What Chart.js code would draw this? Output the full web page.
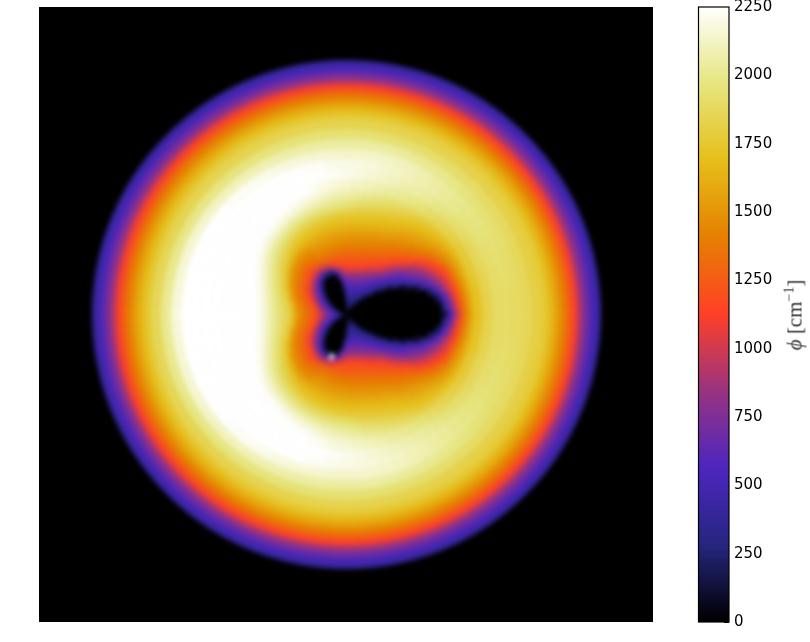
<!DOCTYPE html>
<html>
<head>
<meta charset="utf-8">
<script src="https://cdn.jsdelivr.net/npm/chart.js@4"></script>
<style>
    html, body { margin: 0; padding: 0; background: #fff; }
    #page { position: relative; width: 810px; height: 642px; overflow: hidden; }
    #plot { position: absolute; left: 39px; top: 7px; width: 614px; height: 615px; background: #000; overflow: hidden; }
    #heat { filter: blur(2.6px); }
    #bar { position: absolute; left: 680px; top: 0; }
    #label { position: absolute; left: 795px; top: 315px; transform: translate(-50%, -50%) rotate(-90deg);
             font: 21px "Liberation Serif", serif; color: #333; white-space: nowrap; }
    #label sup { font-size: 14px; line-height: 0; }
</style>
</head>
<body>
<div id="page">
    <div id="plot"><canvas id="heat" width="614" height="615"></canvas></div>
    <canvas id="bar" width="130" height="642"></canvas>
    <div id="label"><i>ϕ</i> [cm<sup>−1</sup>]</div>
</div>
<script>
// colorbar
const tickValues = [0, 250, 500, 750, 1000, 1250, 1500, 1750, 2000, 2250];
const phiMax = 2250;
// CMRmap colours, evenly spaced from 0 to phiMax
const colorStops = [[0, 0, 0], [38, 38, 128], [77, 38, 191], [153, 51, 128], [255, 64, 38],
    [230, 128, 0], [230, 191, 26], [230, 230, 128], [255, 255, 255]];

// outer edges of the polar rings in pixels of radius, centre outwards
const ringEdges = [0, 6, 12, 18, 24, 30, 36, 42, 48, 54, 60, 66, 72, 78, 84, 90, 96, 102, 108, 114, 120, 126,
    136, 146, 156, 166, 176, 186, 196, 202, 208, 214, 220, 226, 232, 238, 244, 250, 254];
const sliceDegrees = 5;
// the speck of white at the tip of the lower lobe
const speck = { slice: 22, ring: 7, value: 2250 };

// phi read along the radius, one row per angle from 0 (east) to 180 (west), 5 degrees apart.
// The picture is mirrored about the horizontal axis so only the upper half is listed.
const phiByAngle = [
    [0,0,0,0,0,0,0,0,0,0,0,0,0,0,0,0,150,560,950,1290,1500, 1690,1820,1890,1900,1885,1860,1800, 1760,1660,1550,1420,1270,1100,860,680,520,400],
    [0,0,0,0,0,0,0,0,0,0,0,0,0,0,0,0,330,690,1060,1320,1530, 1710,1825,1890,1900,1885,1860,1800, 1760,1660,1550,1420,1270,1100,860,680,520,400],
    [0,0,0,0,0,0,0,0,0,0,0,0,0,0,0,180,560,850,1125,1370,1550, 1710,1830,1895,1905,1890,1860,1800, 1760,1660,1550,1420,1270,1100,860,680,520,400],
    [0,0,0,0,0,0,0,0,0,0,0,0,0,0,220,530,770,990,1190,1420,1580, 1730,1835,1900,1915,1895,1865,1800, 1760,1660,1550,1420,1270,1100,860,680,520,400],
    [0,0,0,0,0,0,0,0,0,0,0,0,100,380,580,750,900,1070,1260,1460,1600, 1750,1850,1910,1925,1905,1870,1800, 1760,1660,1550,1420,1270,1100,860,680,520,400],
    [0,0,0,0,0,0,0,0,0,0,60,300,500,620,740,880,1030,1150,1320,1500,1620, 1760,1860,1920,1935,1915,1875,1805, 1760,1660,1550,1420,1270,1100,860,680,520,400],
    [0,0,0,0,0,0,0,0,60,300,450,570,680,780,890,1020,1150,1300,1430,1530,1650, 1770,1870,1935,1950,1925,1880,1805, 1760,1660,1550,1420,1270,1100,860,680,520,400],
    [0,0,0,0,0,0,60,250,400,490,580,690,790,910,1050,1180,1290,1400,1500,1590,1690, 1800,1895,1950,1965,1935,1885,1810, 1760,1660,1550,1420,1270,1100,860,680,520,400],
    [0,0,0,0,70,250,380,450,520,630,730,840,1000,1140,1240,1320,1410,1490,1570,1650,1735, 1830,1920,1970,1980,1945,1890,1810, 1760,1660,1550,1420,1270,1100,860,680,520,400],
    [0,0,0,120,260,370,450,530,650,750,880,1040,1165,1250,1330,1410,1490,1550,1620,1690,1770, 1860,1950,2000,2000,1960,1895,1810, 1760,1660,1550,1420,1270,1100,860,680,520,400],
    [0,60,180,280,370,450,530,650,770,950,1080,1170,1250,1320,1400,1470,1530,1590,1660,1720,1800, 1900,1985,2025,2020,1975,1900,1815, 1760,1660,1550,1420,1270,1100,860,680,520,400],
    [30,150,240,320,410,500,620,740,880,1050,1160,1240,1310,1380,1440,1510,1580,1640,1700,1770,1850, 1945,2020,2050,2045,1990,1905,1820, 1760,1660,1550,1420,1270,1100,860,680,520,400],
    [60,190,290,370,450,560,680,800,960,1140,1210,1290,1360,1430,1490,1560,1630,1690,1745,1820,1890, 1985,2050,2080,2070,2005,1910,1820, 1760,1660,1550,1420,1270,1100,860,680,520,400],
    [80,220,320,400,490,610,730,860,1050,1180,1250,1330,1400,1460,1530,1600,1670,1720,1790,1860,1925, 2010,2070,2100,2090,2015,1915,1825, 1760,1660,1550,1420,1270,1100,860,680,520,400],
    [90,240,340,420,500,640,750,920,1125,1210,1280,1350,1420,1480,1550,1630,1690,1745,1825,1895,1965, 2040,2100,2130,2110,2030,1920,1825, 1760,1660,1550,1420,1270,1100,860,680,520,400],
    [100,250,350,430,520,650,770,980,1160,1230,1300,1370,1440,1500,1580,1650,1710,1765,1855,1930,2000, 2070,2130,2150,2125,2040,1925,1830, 1760,1660,1550,1420,1270,1100,860,680,520,400],
    [80,240,350,440,540,670,790,1010,1170,1240,1320,1390,1460,1520,1600,1670,1730,1790,1885,1965,2030, 2100,2160,2170,2135,2045,1930,1830, 1760,1660,1550,1420,1270,1100,860,680,520,400],
    [0,160,320,430,520,660,790,1030,1180,1250,1330,1400,1470,1530,1610,1680,1745,1825,1925,2000,2060, 2125,2185,2185,2135,2045,1935,1830, 1760,1660,1550,1420,1270,1100,860,680,520,400],
    [0,0,190,360,480,650,790,1040,1180,1250,1330,1410,1480,1540,1620,1690,1750,1860,1960,2030,2090, 2150,2210,2195,2130,2040,1935,1830, 1760,1660,1550,1420,1270,1100,860,680,520,400],
    [0,0,0,0,200,470,690,960,1170,1260,1340,1420,1490,1550,1630,1700,1770,1880,1980,2050,2110, 2170,2225,2210,2140,2045,1935,1830, 1760,1660,1550,1420,1270,1100,860,680,520,400],
    [0,0,0,0,0,0,330,800,1150,1260,1350,1430,1500,1560,1640,1700,1790,1900,2000,2080,2140, 2200,2245,2225,2150,2050,1940,1830, 1760,1660,1550,1420,1270,1100,860,680,520,400],
    [0,0,0,0,0,0,0,500,1080,1270,1360,1440,1510,1580,1650,1720,1810,1920,2030,2110,2180, 2230,2250,2235,2160,2055,1940,1830, 1760,1660,1550,1420,1270,1100,860,680,520,400],
    [0,0,0,0,0,0,0,250,950,1280,1370,1450,1520,1590,1670,1740,1830,1940,2060,2140,2210, 2250,2250,2250,2170,2060,1945,1830, 1760,1660,1550,1420,1270,1100,860,680,520,400],
    [0,0,0,0,0,0,0,260,920,1270,1380,1460,1530,1600,1690,1750,1860,1970,2090,2170,2230, 2250,2250,2250,2185,2070,1950,1830, 1760,1660,1550,1420,1270,1100,860,680,520,400],
    [0,0,0,0,0,0,0,420,900,1230,1340,1420,1500,1620,1700,1790,1900,2000,2120,2200,2245, 2250,2250,2250,2200,2080,1955,1835, 1760,1660,1550,1420,1270,1100,860,680,520,400],
    [0,0,0,0,0,0,100,560,950,1220,1340,1420,1500,1630,1735,1830,1940,2050,2160,2230,2250, 2250,2250,2250,2215,2090,1960,1835, 1760,1660,1550,1420,1270,1100,860,680,520,400],
    [0,0,0,0,0,0,400,700,1060,1200,1320,1430,1520,1680,1780,1880,1980,2090,2190,2245,2250, 2250,2250,2250,2225,2100,1965,1840, 1760,1660,1550,1420,1270,1100,860,680,520,400],
    [0,0,0,0,0,280,570,830,1150,1260,1360,1460,1590,1750,1840,1930,2020,2130,2210,2250,2250, 2250,2250,2250,2235,2110,1970,1840, 1760,1660,1550,1420,1270,1100,860,680,520,400],
    [0,0,0,0,240,500,730,1010,1190,1300,1400,1480,1680,1800,1890,1990,2080,2170,2240,2250,2250, 2250,2250,2250,2245,2120,1975,1840, 1760,1660,1550,1420,1270,1100,860,680,520,400],
    [0,0,0,190,430,640,840,1080,1230,1340,1440,1560,1780,1860,1960,2050,2140,2220,2250,2250,2250, 2250,2250,2250,2250,2130,1980,1845, 1760,1660,1550,1420,1270,1100,860,680,520,400],
    [0,0,130,390,570,740,1000,1170,1290,1390,1480,1720,1830,1930,2020,2110,2190,2250,2250,2250,2250, 2250,2250,2250,2250,2140,1985,1845, 1760,1660,1550,1420,1270,1100,860,680,520,400],
    [0,110,330,500,650,830,1140,1230,1330,1440,1590,1780,1890,1990,2080,2170,2240,2250,2250,2250,2250, 2250,2250,2250,2250,2145,1990,1850, 1760,1660,1550,1420,1270,1100,860,680,520,400],
    [60,260,450,600,750,1040,1200,1290,1390,1490,1750,1850,1950,2040,2130,2210,2250,2250,2250,2250,2250, 2250,2250,2250,2250,2150,1995,1850, 1760,1660,1550,1420,1270,1100,860,680,520,400],
    [120,320,520,680,830,1150,1250,1340,1440,1590,1810,1900,1990,2080,2170,2240,2250,2250,2250,2250,2250, 2250,2250,2250,2250,2155,2000,1855, 1760,1660,1550,1420,1270,1100,860,680,520,400],
    [140,380,570,730,940,1190,1290,1390,1490,1750,1850,1930,2020,2110,2200,2250,2250,2250,2250,2250,2250, 2250,2250,2250,2250,2160,2005,1855, 1760,1660,1550,1420,1270,1100,860,680,520,400],
    [160,450,610,770,1010,1210,1310,1410,1530,1790,1870,1950,2040,2130,2210,2250,2250,2250,2250,2250,2250, 2250,2250,2250,2250,2165,2010,1855, 1760,1660,1550,1420,1270,1100,860,680,520,400],
    [170,500,640,780,1060,1220,1320,1420,1600,1810,1890,1960,2050,2140,2220,2250,2250,2250,2250,2250,2250, 2250,2250,2250,2250,2170,2010,1860, 1760,1660,1550,1420,1270,1100,860,680,520,400]
];

function phiColor(v) {
    const t = Math.min(v / phiMax, 1) * (colorStops.length - 1);
    const i = Math.min(Math.floor(t), colorStops.length - 2);
    const f = t - i;
    const c = colorStops[i].map((a, k) => Math.round(a + (colorStops[i + 1][k] - a) * f));
    return `rgb(${c[0]},${c[1]},${c[2]})`;
}

// Heat map: one doughnut ring per radius, one slice per angle
const sliceCount = 360 / sliceDegrees;
const slices = Array.from({ length: sliceCount }, () => sliceDegrees);
const rings = [];
for (let r = ringEdges.length - 2; r >= 0; r--) {
    const colors = slices.map((_, s) => {
        const row = s <= sliceCount / 2 ? s : sliceCount - s;
        const hit = s === speck.slice && r === speck.ring;
        return phiColor(hit ? speck.value : phiByAngle[row][r]);
    });
    rings.push({
        data: slices,
        weight: ringEdges[r + 1] - ringEdges[r],
        backgroundColor: colors,
        borderColor: colors,
        borderWidth: 1
    });
}

new Chart(document.getElementById('heat'), {
    type: 'doughnut',
    data: { datasets: rings },
    options: {
        responsive: false,
        animation: false,
        events: [],
        cutout: 0,
        rotation: 90 - sliceDegrees / 2,
        layout: { padding: { left: 53, right: 52, top: 53, bottom: 53 } },
        plugins: { legend: { display: false }, tooltip: { enabled: false } }
    }
});

// Colorbar: stacked bands between 0 and phiMax
const bandSize = 10;
const bands = [];
for (let v = 0; v < phiMax; v += bandSize) {
    bands.push({ data: [bandSize], backgroundColor: phiColor(v + bandSize / 2), borderWidth: 0, inflateAmount: 1 });
}

const barFrame = {
    id: 'barFrame',
    afterDraw(chart) {
        const { ctx, chartArea: a } = chart;
        ctx.save();
        ctx.strokeStyle = '#000';
        ctx.lineWidth = 1.2;
        ctx.strokeRect(a.left, a.top, a.right - a.left, a.bottom - a.top);
        ctx.restore();
    }
};

new Chart(document.getElementById('bar'), {
    type: 'bar',
    data: { labels: [''], datasets: bands },
    options: {
        responsive: false,
        animation: false,
        events: [],
        barPercentage: 1,
        categoryPercentage: 1,
        layout: { padding: { left: 18.5, right: 0, top: 7, bottom: 20 } },
        scales: {
            x: { stacked: true, display: false },
            y: {
                stacked: true,
                position: 'right',
                min: 0,
                max: phiMax,
                afterBuildTicks(axis) { axis.ticks = tickValues.map(value => ({ value })); },
                afterFit(axis) { axis.width = 81; axis.paddingTop = 0; axis.paddingBottom = 0; },
                border: { display: false },
                grid: { drawOnChartArea: false, tickLength: -5, tickColor: '#000', tickWidth: 1 },
                ticks: {
                    padding: 10,
                    color: '#000',
                    font: { family: 'DejaVu Sans', size: 15 },
                    callback: value => String(value)
                }
            }
        },
        plugins: { legend: { display: false }, tooltip: { enabled: false } }
    },
    plugins: [barFrame]
});
</script>
</body>
</html>
